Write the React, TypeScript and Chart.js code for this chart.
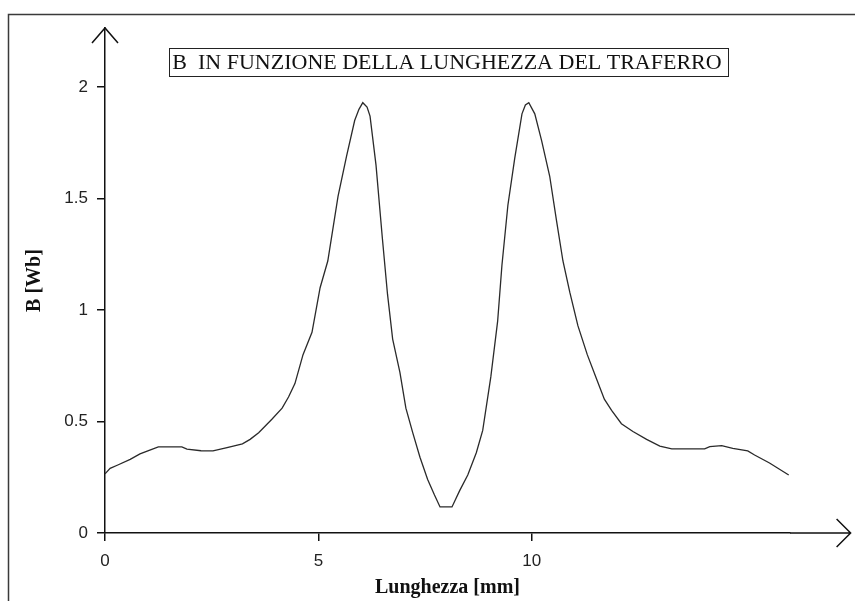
import React, { useEffect, useRef } from 'react';
import { Chart, registerables } from 'chart.js';

Chart.register(...registerables);

// Lunghezza del traferro [mm]
const lunghezza = [
  0.0, 0.12, 0.3, 0.59, 0.82, 1.05, 1.25, 1.8, 1.92, 2.25, 2.53, 2.86, 3.22, 3.4, 3.6, 3.91,
  4.15, 4.3, 4.45, 4.64, 4.85, 5.04, 5.22, 5.46, 5.66, 5.85, 5.95, 6.04, 6.14, 6.21, 6.35,
  6.5, 6.62, 6.74, 6.91, 7.05, 7.21, 7.38, 7.56, 7.72, 7.85, 8.13, 8.31, 8.5, 8.7, 8.85,
  9.04, 9.2, 9.3, 9.44, 9.6, 9.77, 9.85, 9.93, 10.07, 10.23, 10.42, 10.58, 10.73, 10.89,
  11.08, 11.3, 11.52, 11.7, 11.87, 12.1, 12.37, 12.69, 13.0, 13.28, 14.05, 14.17, 14.45,
  14.71, 15.06, 15.22, 15.57, 16.02,
];

// B [Wb]
const bValues = [
  0.265, 0.29, 0.305, 0.33, 0.355, 0.372, 0.386, 0.386, 0.376, 0.369, 0.368, 0.383, 0.4, 0.42,
  0.45, 0.51, 0.56, 0.61, 0.67, 0.8, 0.9, 1.1, 1.22, 1.51, 1.69, 1.85, 1.9, 1.93, 1.91, 1.87,
  1.65, 1.32, 1.07, 0.87, 0.72, 0.56, 0.45, 0.34, 0.24, 0.17, 0.117, 0.117, 0.19, 0.26, 0.36,
  0.46, 0.7, 0.95, 1.2, 1.47, 1.68, 1.88, 1.92, 1.93, 1.88, 1.76, 1.6, 1.4, 1.22, 1.08, 0.93,
  0.8, 0.69, 0.6, 0.55, 0.49, 0.455, 0.42, 0.39, 0.377, 0.377, 0.387, 0.392, 0.38, 0.368,
  0.35, 0.314, 0.26,
];

const xTicks = [0, 5, 10];
const yTicks = [0, 0.5, 1, 1.5, 2];

const chartTitle = 'B  IN FUNZIONE DELLA LUNGHEZZA DEL TRAFERRO';
const xTitle = 'Lunghezza [mm]';
const yTitle = 'B [Wb]';

const xMax = 16.05;
const yMax = 2.265;
const xArrowEnd = 17.47;

export default function App() {
  const ref = useRef<HTMLCanvasElement | null>(null);

  useEffect(() => {
    if (!ref.current) return;

    const decor = {
      id: 'decor',
      beforeDraw(chart: any) {
        const { ctx, width, height } = chart;
        ctx.save();
        ctx.fillStyle = '#ffffff';
        ctx.fillRect(0, 0, width, height);
        ctx.strokeStyle = '#3a3a3a';
        ctx.lineWidth = 1.5;
        ctx.beginPath();
        ctx.moveTo(8.5, height);
        ctx.lineTo(8.5, 14.5);
        ctx.lineTo(width, 14.5);
        ctx.stroke();
        ctx.restore();
      },
      afterDraw(chart: any) {
        const { ctx, chartArea } = chart;
        const xs = chart.scales.x;
        const ys = chart.scales.y;
        const x0 = xs.getPixelForValue(0);
        const y0 = ys.getPixelForValue(0);
        const xTip = xs.getPixelForValue(xArrowEnd);
        const yTip = ys.getPixelForValue(yMax);
        ctx.save();
        ctx.strokeStyle = '#111111';
        ctx.lineWidth = 1.5;
        ctx.beginPath();
        ctx.moveTo(chartArea.right, y0);
        ctx.lineTo(xTip, y0);
        ctx.moveTo(xTip - 14, y0 - 14);
        ctx.lineTo(xTip, y0);
        ctx.lineTo(xTip - 14, y0 + 14);
        ctx.moveTo(x0 - 13, yTip + 15);
        ctx.lineTo(x0, yTip);
        ctx.lineTo(x0 + 13, yTip + 15);
        ctx.stroke();

        ctx.lineWidth = 1;
        ctx.strokeStyle = '#222222';
        ctx.strokeRect(169.5, 48.5, 559, 28);
        ctx.fillStyle = '#111111';
        ctx.font = '22px "Liberation Serif", "Times New Roman", serif';
        ctx.textAlign = 'center';
        ctx.textBaseline = 'alphabetic';
        ctx.fillText(chartTitle, 447, 68.5);
        ctx.restore();
      },
    };

    const tickFont = { family: '"Liberation Sans", Arial, sans-serif', size: 17 };
    const titleFont = { family: '"Liberation Serif", "Times New Roman", serif', size: 20, weight: 'bold' as const };

    const chart = new Chart(ref.current, {
      type: 'line',
      data: {
        datasets: [
          {
            data: lunghezza.map((x, i) => ({ x, y: bValues[i] })),
            borderColor: '#2a2a2a',
            borderWidth: 1.3,
            pointRadius: 0,
            tension: 0,
            fill: false,
            clip: false as any,
          },
        ],
      },
      options: {
        animation: false,
        responsive: false,
        layout: { padding: { left: 0, top: 28, right: 65, bottom: 0 } },
        plugins: {
          legend: { display: false },
          tooltip: { enabled: false },
          title: { display: false },
        },
        scales: {
          x: {
            type: 'linear',
            min: 0,
            max: xMax,
            afterBuildTicks: (s: any) => {
              s.ticks = xTicks.map((v) => ({ value: v }));
            },
            afterFit: (s: any) => {
              s.height = 68;
            },
            grid: { drawOnChartArea: false, drawTicks: true, tickLength: 8, color: '#111111', lineWidth: 1.5 },
            border: { display: true, color: '#111111', width: 1.5 },
            ticks: {
              font: tickFont,
              color: '#222222',
              padding: 10,
              maxRotation: 0,
              autoSkip: false,
              callback: (v: any) => String(v),
            },
            title: { display: true, text: xTitle, font: titleFont, color: '#111111', padding: { top: 0, bottom: 1 } },
          },
          y: {
            type: 'linear',
            min: 0,
            max: yMax,
            afterBuildTicks: (s: any) => {
              s.ticks = yTicks.map((v) => ({ value: v }));
            },
            afterFit: (s: any) => {
              s.width = 105;
            },
            grid: { drawOnChartArea: false, drawTicks: true, tickLength: 8, color: '#111111', lineWidth: 1.5 },
            border: { display: true, color: '#111111', width: 1.5 },
            ticks: {
              font: tickFont,
              color: '#222222',
              padding: 9,
              autoSkip: false,
              callback: (v: any) => String(v),
            },
            title: { display: true, text: yTitle, font: titleFont, color: '#111111', padding: { top: 23, bottom: 0 } },
          },
        },
      },
      plugins: [decor],
    });

    return () => chart.destroy();
  }, []);

  return (
    <div style={{ position: 'absolute', left: 0, top: 0, width: 855, height: 601 }}>
      <canvas ref={ref} width={855} height={601} style={{ display: 'block' }} />
    </div>
  );
}
